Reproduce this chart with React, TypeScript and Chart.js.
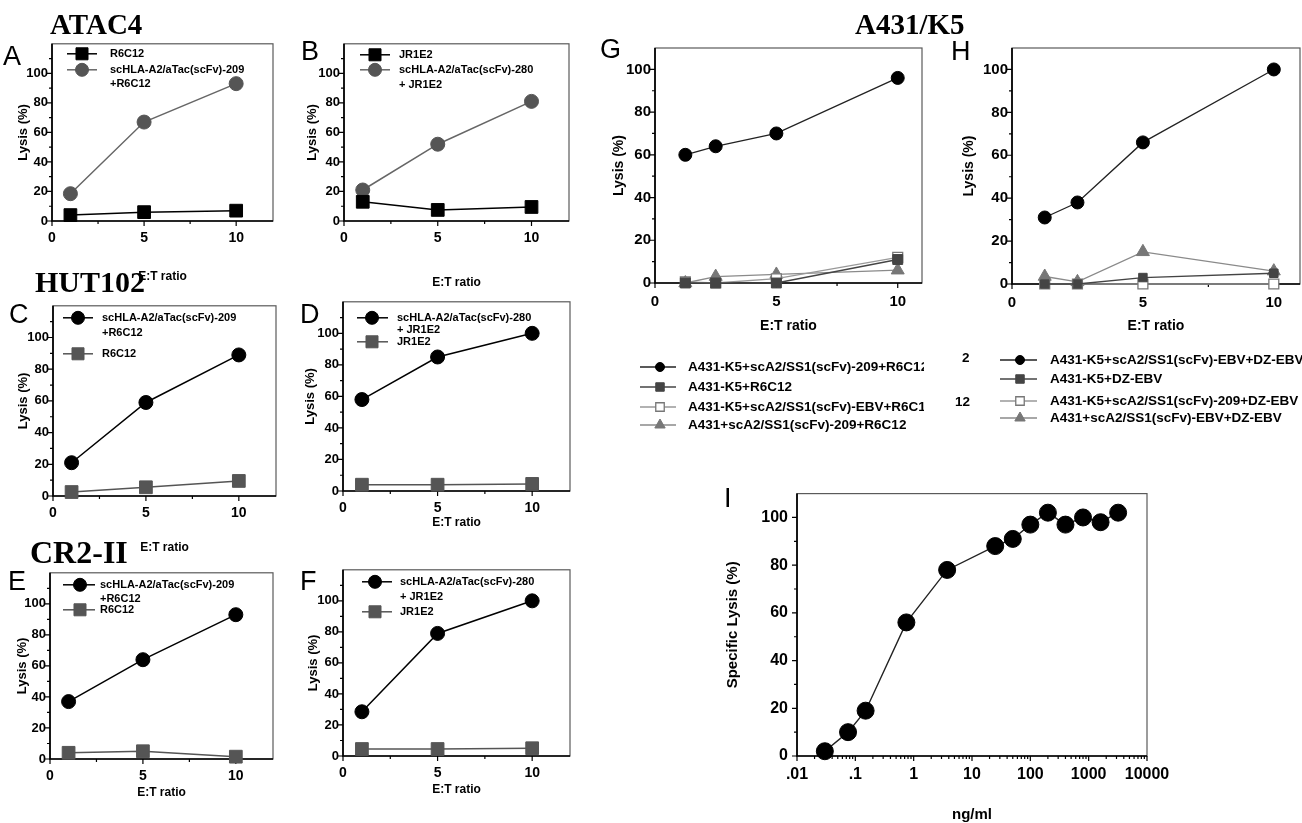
import { useEffect, useRef } from 'react';
import { Chart, registerables } from 'chart.js';
Chart.register(...registerables);

const SANS = '"Liberation Sans", Arial, Helvetica, sans-serif';
const SERIF = '"Liberation Serif", "Times New Roman", Times, serif';

// ---------------- data ----------------
const etRatio = [1, 5, 10];
const aR6C12 = [4, 6, 7];
const aScHLA209 = [18.5, 67, 93];
const bJR1E2 = [13, 7.5, 9.5];
const bScHLA280 = [21, 52, 81];
const cScHLA209 = [21, 59, 89];
const cR6C12 = [2.5, 5.5, 9.5];
const dScHLA280 = [58, 85, 100];
const dJR1E2 = [4, 4, 4.5];
const eScHLA209 = [37, 64, 93];
const eR6C12 = [4, 5, 1.5];
const fScHLA280 = [28.5, 79, 100];
const fJR1E2 = [4.5, 4.5, 5];

const ghRatio = [1.25, 2.5, 5, 10];
const gK5Sc209R6 = [60, 64, 70, 96];
const gK5R6 = [0, 0, 0, 11];
const gK5ScEbvR6 = [0.5, 0, 2, 12];
const gA431Sc209R6 = [0, 3, 4, 6];
const hK5ScEbvDz = [31, 38, 66, 100];
const hK5Dz = [0, 0, 3, 5];
const hK5Sc209Dz = [0, 0, 0, 0];
const hA431ScEbvDz = [3.5, 1, 15, 6];

const iConc = [0.03, 0.075, 0.15, 0.75, 3.75, 25, 50, 100, 200, 400, 800, 1600, 3200];
const iLysis = [2, 10, 19, 56, 78, 88, 91, 97, 102, 97, 100, 98, 102];

// ticks
const etTicks = [0, 5, 10];
const etMinorTicks = [2.5, 7.5];
const lysisTicks = [0, 20, 40, 60, 80, 100];
const lysisMinorTicks = [10, 30, 50, 70, 90, 110];
const lysisMinorTicksShort = [10, 30, 50, 70, 90];
const concTicks = [0.01, 0.1, 1, 10, 100, 1000, 10000];
const concMinorSteps = [2, 3, 4, 5, 6, 7, 8, 9];

// labels
const lblR6C12 = ['R6C12'];
const lbl209 = ['scHLA-A2/aTac(scFv)-209', '+R6C12'];
const lblJR1E2 = ['JR1E2'];
const lbl280 = ['scHLA-A2/aTac(scFv)-280', '+ JR1E2'];
const gLabels = [
  'A431-K5+scA2/SS1(scFv)-209+R6C12',
  'A431-K5+R6C12',
  'A431-K5+scA2/SS1(scFv)-EBV+R6C12',
  'A431+scA2/SS1(scFv)-209+R6C12',
];
const hLabels = [
  'A431-K5+scA2/SS1(scFv)-EBV+DZ-EBV',
  'A431-K5+DZ-EBV',
  'A431-K5+scA2/SS1(scFv)-209+DZ-EBV',
  'A431+scA2/SS1(scFv)-EBV+DZ-EBV',
];

// ---------------- styles ----------------
type Sty = { shape: 'circle' | 'rect' | 'triangle'; r: number; fill: string; edge: string; line: string; lw?: number; ew?: number };
const sBlackCircle: Sty = { shape: 'circle', r: 7, fill: '#000', edge: '#000', line: '#000' };
const sGrayCircle: Sty = { shape: 'circle', r: 7, fill: '#555', edge: '#555', line: '#666' };
const sBlackSquare: Sty = { shape: 'rect', r: 9, fill: '#000', edge: '#000', line: '#000' };
const sGraySquare: Sty = { shape: 'rect', r: 9, fill: '#555', edge: '#555', line: '#555' };
const sGCircle: Sty = { shape: 'circle', r: 6.5, fill: '#000', edge: '#000', line: '#222', lw: 1.3 };
const sGSquare: Sty = { shape: 'rect', r: 7, fill: '#444', edge: '#444', line: '#444', lw: 1.3 };
const sGOpen: Sty = { shape: 'rect', r: 7, fill: '#fff', edge: '#777', line: '#999', lw: 1.3, ew: 1.3 };
const sGTri: Sty = { shape: 'triangle', r: 7.5, fill: '#777', edge: '#777', line: '#8a8a8a', lw: 1.3 };
const sICircle: Sty = { shape: 'circle', r: 8.5, fill: '#000', edge: '#000', line: '#222', lw: 1.4 };

function mk(label: string, xs: number[], ys: number[], s: Sty) {
  return {
    label,
    data: xs.map((x, i) => ({ x, y: ys[i] })),
    borderColor: s.line,
    borderWidth: s.lw ?? 1.5,
    pointStyle: s.shape,
    pointRadius: s.r,
    pointHoverRadius: s.r,
    pointBackgroundColor: s.fill,
    pointBorderColor: s.edge,
    pointBorderWidth: s.ew ?? 1,
    tension: 0,
    clip: false as any,
  };
}

type LegendItem = { ds: number; lines: string[]; ys: number[]; r: number };
type LegendCfg = { x0: number; x1: number; mx: number; tx: number; font: number; items: LegendItem[] };

type PanelCfg = {
  L: number; T: number; R: number; B: number; padT: number; padR: number; Hx?: number;
  xType: 'linear' | 'logarithmic'; xMin: number; xMax: number; yMax: number;
  xMajor: number[]; xMinor: number[]; yMajor: number[]; yMinor: number[];
  xFmt: (v: number) => string;
  xTickFont: number; yTickFont: number; xTickPad: number; yTickPad: number;
  xTitle: string; xTitleY: number; xTitleFont: number;
  yTitle: string; yTitleX: number; yTitleFont: number;
  datasets: any[]; styles: Sty[];
  legend?: LegendCfg;
};

function etPanel(o: { L: number; T: number; R: number; B: number; yTitleX: number; xTitleY: number; datasets: any[]; styles: Sty[]; legend: Omit<LegendCfg, 'font'> }): PanelCfg {
  return {
    L: o.L, T: o.T, R: o.R, B: o.B, padT: 10, padR: 6,
    xType: 'linear', xMin: 0, xMax: 12, yMax: 120,
    xMajor: etTicks, xMinor: etMinorTicks, yMajor: lysisTicks, yMinor: lysisMinorTicks,
    xFmt: (v) => String(v),
    xTickFont: 14, yTickFont: 13, xTickPad: 9, yTickPad: 4,
    xTitle: 'E:T ratio', xTitleY: o.xTitleY, xTitleFont: 12,
    yTitle: 'Lysis (%)', yTitleX: o.yTitleX, yTitleFont: 13,
    datasets: o.datasets, styles: o.styles,
    legend: { ...o.legend, font: 11 },
  };
}

const panels: PanelCfg[] = [
  etPanel({
    L: 52, T: 42, R: 273, B: 221, yTitleX: 23, xTitleY: 277,
    datasets: [mk(lblR6C12.join(' '), etRatio, aR6C12, sBlackSquare), mk(lbl209.join(' '), etRatio, aScHLA209, sGrayCircle)],
    styles: [sBlackSquare, sGrayCircle],
    legend: { x0: 15, x1: 45, mx: 30, tx: 58, items: [{ ds: 0, lines: lblR6C12, ys: [10], r: 8.5 }, { ds: 1, lines: lbl209, ys: [26, 40], r: 6.5 }] },
  }),
  etPanel({
    L: 344, T: 42, R: 569, B: 221, yTitleX: 312, xTitleY: 283,
    datasets: [mk(lblJR1E2.join(' '), etRatio, bJR1E2, sBlackSquare), mk(lbl280.join(' '), etRatio, bScHLA280, sGrayCircle)],
    styles: [sBlackSquare, sGrayCircle],
    legend: { x0: 16, x1: 46, mx: 31, tx: 55, items: [{ ds: 0, lines: lblJR1E2, ys: [11], r: 8.5 }, { ds: 1, lines: lbl280, ys: [26, 41], r: 6.5 }] },
  }),
  etPanel({
    L: 53, T: 304, R: 276, B: 496, yTitleX: 23, xTitleY: 548,
    datasets: [mk(lbl209.join(' '), etRatio, cScHLA209, sBlackCircle), mk(lblR6C12.join(' '), etRatio, cR6C12, sGraySquare)],
    styles: [sBlackCircle, sGraySquare],
    legend: { x0: 10, x1: 40, mx: 25, tx: 49, items: [{ ds: 0, lines: lbl209, ys: [12, 27], r: 6.5 }, { ds: 1, lines: lblR6C12, ys: [48], r: 8.5 }] },
  }),
  etPanel({
    L: 343, T: 300, R: 570, B: 491, yTitleX: 310, xTitleY: 523,
    datasets: [mk(lbl280.join(' '), etRatio, dScHLA280, sBlackCircle), mk(lblJR1E2.join(' '), etRatio, dJR1E2, sGraySquare)],
    styles: [sBlackCircle, sGraySquare],
    legend: { x0: 14, x1: 45, mx: 29, tx: 54, items: [{ ds: 0, lines: lbl280, ys: [16, 28], r: 6.5 }, { ds: 1, lines: lblJR1E2, ys: [40], r: 8.5 }] },
  }),
  etPanel({
    L: 50, T: 571, R: 273, B: 759, yTitleX: 22, xTitleY: 793,
    datasets: [mk(lbl209.join(' '), etRatio, eScHLA209, sBlackCircle), mk(lblR6C12.join(' '), etRatio, eR6C12, sGraySquare)],
    styles: [sBlackCircle, sGraySquare],
    legend: { x0: 13, x1: 45, mx: 30, tx: 50, items: [{ ds: 0, lines: lbl209, ys: [12, 26], r: 6.5 }, { ds: 1, lines: lblR6C12, ys: [37], r: 8.5 }] },
  }),
  etPanel({
    L: 343, T: 568, R: 570, B: 756, yTitleX: 313, xTitleY: 790,
    datasets: [mk(lbl280.join(' '), etRatio, fScHLA280, sBlackCircle), mk(lblJR1E2.join(' '), etRatio, fJR1E2, sGraySquare)],
    styles: [sBlackCircle, sGraySquare],
    legend: { x0: 19, x1: 49, mx: 32, tx: 57, items: [{ ds: 0, lines: lbl280, ys: [12, 27], r: 6.5 }, { ds: 1, lines: lblJR1E2, ys: [42], r: 8.5 }] },
  }),
  {
    L: 655, T: 43, R: 922, B: 283, padT: 8, padR: 2, Hx: 150,
    xType: 'linear', xMin: 0, xMax: 11, yMax: 110,
    xMajor: etTicks, xMinor: etMinorTicks, yMajor: lysisTicks, yMinor: lysisMinorTicksShort,
    xFmt: (v) => String(v), xTickFont: 15, yTickFont: 15, xTickPad: 10, yTickPad: 4,
    xTitle: 'E:T ratio', xTitleY: 326, xTitleFont: 14,
    yTitle: 'Lysis (%)', yTitleX: 619, yTitleFont: 14,
    datasets: [
      mk(gLabels[0], ghRatio, gK5Sc209R6, sGCircle),
      mk(gLabels[1], ghRatio, gK5R6, sGSquare),
      mk(gLabels[2], ghRatio, gK5ScEbvR6, sGOpen),
      mk(gLabels[3], ghRatio, gA431Sc209R6, sGTri),
    ],
    styles: [sGCircle, sGSquare, sGOpen, sGTri],
    legend: {
      x0: -15, x1: 21, mx: 5, tx: 33, font: 13.5,
      items: [
        { ds: 0, lines: [gLabels[0]], ys: [319], r: 4.5 },
        { ds: 1, lines: [gLabels[1]], ys: [339], r: 6 },
        { ds: 2, lines: [gLabels[2]], ys: [359], r: 6 },
        { ds: 3, lines: [gLabels[3]], ys: [377], r: 6 },
      ],
    },
  },
  {
    L: 1012, T: 43, R: 1300, B: 284, padT: 8, padR: 2, Hx: 152,
    xType: 'linear', xMin: 0, xMax: 11, yMax: 110,
    xMajor: etTicks, xMinor: etMinorTicks, yMajor: lysisTicks, yMinor: lysisMinorTicksShort,
    xFmt: (v) => String(v), xTickFont: 15, yTickFont: 15, xTickPad: 10, yTickPad: 4,
    xTitle: 'E:T ratio', xTitleY: 326, xTitleFont: 14,
    yTitle: 'Lysis (%)', yTitleX: 969, yTitleFont: 14,
    datasets: [
      mk(hLabels[0], ghRatio, hK5ScEbvDz, sGCircle),
      mk(hLabels[1], ghRatio, hK5Dz, { ...sGSquare, r: 6 }),
      mk(hLabels[2], ghRatio, hK5Sc209Dz, sGOpen),
      mk(hLabels[3], ghRatio, hA431ScEbvDz, sGTri),
    ],
    styles: [sGCircle, sGSquare, sGOpen, sGTri],
    legend: {
      x0: -12, x1: 25, mx: 8, tx: 38, font: 13.5,
      items: [
        { ds: 0, lines: [hLabels[0]], ys: [312], r: 4.5 },
        { ds: 1, lines: [hLabels[1]], ys: [331], r: 6 },
        { ds: 2, lines: [hLabels[2]], ys: [353], r: 6 },
        { ds: 3, lines: [hLabels[3]], ys: [370], r: 6 },
      ],
    },
  },
  {
    L: 797, T: 483, R: 1147, B: 756, padT: 8, padR: 36,
    xType: 'logarithmic', xMin: 0.01, xMax: 10000, yMax: 110,
    xMajor: concTicks,
    xMinor: concTicks.slice(0, -1).flatMap((d) => concMinorSteps.map((m) => d * m)),
    yMajor: lysisTicks, yMinor: lysisMinorTicksShort,
    xFmt: (v) => (v < 1 ? String(v).replace(/^0/, '') : String(v)),
    xTickFont: 16, yTickFont: 16, xTickPad: 9, yTickPad: 9,
    xTitle: 'ng/ml', xTitleY: 815, xTitleFont: 15,
    yTitle: 'Specific Lysis (%)', yTitleX: 733, yTitleFont: 15,
    datasets: [mk('Specific lysis', iConc, iLysis, sICircle)],
    styles: [sICircle],
  },
];

function geom(p: PanelCfg) {
  const ylh = p.yTitleFont * 1.2;
  const xlh = p.xTitleFont * 1.2;
  const Wy = Math.round(p.L - p.yTitleX + ylh / 2 + 2);
  const Hx = p.Hx ?? Math.round(p.xTitleY - p.B + xlh / 2 + 3);
  const left = p.L - Wy;
  const top = p.T - p.padT;
  const w = Wy + (p.R - p.L) + p.padR;
  const h = p.padT + (p.B - p.T) + Hx;
  return {
    Wy, Hx, left, top, w, h,
    yTitlePad: p.yTitleX - left - ylh / 2,
    xTitlePad: Hx - (p.xTitleY - p.B) - xlh / 2,
  };
}

function drawMarker(ctx: CanvasRenderingContext2D, s: Sty, x: number, y: number, r: number) {
  ctx.beginPath();
  if (s.shape === 'circle') {
    ctx.arc(x, y, r, 0, Math.PI * 2);
  } else if (s.shape === 'rect') {
    const h = r * Math.SQRT1_2;
    ctx.rect(x - h, y - h, 2 * h, 2 * h);
  } else {
    let a = 0;
    ctx.moveTo(x + Math.sin(a) * r, y - Math.cos(a) * r);
    a += (2 * Math.PI) / 3;
    ctx.lineTo(x + Math.sin(a) * r, y - Math.cos(a) * r);
    a += (2 * Math.PI) / 3;
    ctx.lineTo(x + Math.sin(a) * r, y - Math.cos(a) * r);
    ctx.closePath();
  }
  ctx.fillStyle = s.fill;
  ctx.strokeStyle = s.edge;
  ctx.lineWidth = s.ew ?? 1;
  ctx.fill();
  ctx.stroke();
}

function makeConfig(p: PanelCfg, g: ReturnType<typeof geom>): any {
  const frame = {
    id: 'frameBox',
    beforeDatasetsDraw(chart: any) {
      const { ctx, chartArea: a, scales } = chart;
      const x = scales.x, y = scales.y;
      ctx.save();
      ctx.strokeStyle = '#5a5a5a';
      ctx.lineWidth = 1.2;
      ctx.strokeRect(a.left, a.top, a.right - a.left, a.bottom - a.top);
      ctx.strokeStyle = '#000';
      ctx.lineWidth = 1.7;
      ctx.beginPath();
      ctx.moveTo(a.left, a.top);
      ctx.lineTo(a.left, a.bottom);
      ctx.lineTo(a.right, a.bottom);
      ctx.stroke();
      ctx.lineWidth = 1.2;
      ctx.beginPath();
      const tick = (vals: number[], len: number, axis: 'x' | 'y') => {
        for (const v of vals) {
          if (axis === 'x') {
            const px = x.getPixelForValue(v);
            ctx.moveTo(px, a.bottom);
            ctx.lineTo(px, a.bottom + len);
          } else {
            const py = y.getPixelForValue(v);
            ctx.moveTo(a.left, py);
            ctx.lineTo(a.left - len, py);
          }
        }
      };
      tick(p.xMajor, 5, 'x');
      tick(p.xMinor, 3, 'x');
      tick(p.yMajor, 5, 'y');
      tick(p.yMinor, 3, 'y');
      ctx.stroke();
      ctx.restore();
    },
  };
  const legend = {
    id: 'insetLegend',
    afterDatasetsDraw(chart: any) {
      const L = p.legend;
      if (!L) return;
      const { ctx, chartArea: a } = chart;
      ctx.save();
      for (const it of L.items) {
        const s = p.styles[it.ds];
        const ds = chart.data.datasets[it.ds];
        const y0 = a.top + it.ys[0];
        ctx.strokeStyle = ds.borderColor;
        ctx.lineWidth = ds.borderWidth;
        ctx.beginPath();
        ctx.moveTo(a.left + L.x0, y0);
        ctx.lineTo(a.left + L.x1, y0);
        ctx.stroke();
        drawMarker(ctx, s, a.left + L.mx, y0, it.r);
        ctx.fillStyle = '#000';
        ctx.font = `bold ${L.font}px ${SANS}`;
        ctx.textBaseline = 'middle';
        ctx.textAlign = 'left';
        it.lines.forEach((t, i) => ctx.fillText(t, a.left + L.tx, a.top + it.ys[i]));
      }
      ctx.restore();
    },
  };
  return {
    type: 'line',
    data: { datasets: p.datasets },
    options: {
      responsive: false,
      animation: false,
      devicePixelRatio: 1,
      events: [],
      layout: { autoPadding: false, padding: { top: p.padT, right: p.padR, left: 0, bottom: 0 } },
      plugins: { legend: { display: false }, tooltip: { enabled: false } },
      scales: {
        x: {
          type: p.xType,
          min: p.xMin,
          max: p.xMax,
          grid: { display: false, drawTicks: false },
          border: { display: false },
          afterBuildTicks: (s: any) => { s.ticks = p.xMajor.map((v) => ({ value: v })); },
          afterFit: (s: any) => { s.height = g.Hx; },
          ticks: {
            autoSkip: false, maxRotation: 0, minRotation: 0, padding: p.xTickPad, color: '#000',
            font: { family: SANS, size: p.xTickFont, weight: 'bold' },
            callback: (v: any) => p.xFmt(Number(v)),
          },
          title: {
            display: true, text: p.xTitle, color: '#000',
            font: { family: SANS, size: p.xTitleFont, weight: 'bold' },
            padding: { top: 0, bottom: g.xTitlePad },
          },
        },
        y: {
          type: 'linear',
          min: 0,
          max: p.yMax,
          grid: { display: false, drawTicks: false },
          border: { display: false },
          afterBuildTicks: (s: any) => { s.ticks = p.yMajor.map((v) => ({ value: v })); },
          afterFit: (s: any) => { s.width = g.Wy; },
          ticks: {
            autoSkip: false, padding: p.yTickPad, color: '#000',
            font: { family: SANS, size: p.yTickFont, weight: 'bold' },
            callback: (v: any) => String(v),
          },
          title: {
            display: true, text: p.yTitle, color: '#000',
            font: { family: SANS, size: p.yTitleFont, weight: 'bold' },
            padding: { top: g.yTitlePad, bottom: 0 },
          },
        },
      },
    },
    plugins: [frame, legend],
  };
}

function Panel({ p }: { p: PanelCfg }) {
  const ref = useRef<HTMLCanvasElement>(null);
  const g = geom(p);
  useEffect(() => {
    const chart = new Chart(ref.current as HTMLCanvasElement, makeConfig(p, g));
    return () => chart.destroy();
  }, []);
  return (
    <canvas
      ref={ref}
      width={g.w}
      height={g.h}
      style={{ position: 'absolute', left: g.left, top: g.top, width: g.w, height: g.h }}
    />
  );
}

type TextItem = { text: string; x: number; y: number; size: number; font: string; weight: string };
const panelLetters: TextItem[] = [
  { text: 'A', x: 3, y: 43, size: 27, font: SANS, weight: 'normal' },
  { text: 'B', x: 301, y: 38, size: 27, font: SANS, weight: 'normal' },
  { text: 'C', x: 9, y: 301, size: 27, font: SANS, weight: 'normal' },
  { text: 'D', x: 300, y: 301, size: 27, font: SANS, weight: 'normal' },
  { text: 'E', x: 8, y: 568, size: 27, font: SANS, weight: 'normal' },
  { text: 'F', x: 300, y: 568, size: 27, font: SANS, weight: 'normal' },
  { text: 'G', x: 600, y: 36, size: 27, font: SANS, weight: 'normal' },
  { text: 'H', x: 951, y: 38, size: 27, font: SANS, weight: 'normal' },
  { text: 'I', x: 724, y: 485, size: 27, font: SANS, weight: 'normal' },
];
const groupTitles: TextItem[] = [
  { text: 'ATAC4', x: 50, y: 10, size: 29, font: SERIF, weight: 'bold' },
  { text: 'HUT102', x: 35, y: 267, size: 30, font: SERIF, weight: 'bold' },
  { text: 'CR2-II', x: 30, y: 536, size: 32, font: SERIF, weight: 'bold' },
  { text: 'A431/K5', x: 855, y: 10, size: 29, font: SERIF, weight: 'bold' },
];
const strayTexts: TextItem[] = [
  { text: '2', x: 962, y: 351, size: 13.5, font: SANS, weight: 'bold' },
  { text: '12', x: 955, y: 395, size: 13.5, font: SANS, weight: 'bold' },
];

export default function App() {
  const texts = [...panelLetters, ...groupTitles, ...strayTexts];
  return (
    <div style={{ position: 'absolute', left: 0, top: 0, width: 1302, height: 823, background: '#fff', overflow: 'hidden' }}>
      {panels.map((p, i) => (
        <Panel key={i} p={p} />
      ))}
      {texts.map((t, i) => (
        <div
          key={'t' + i}
          style={{
            position: 'absolute', left: t.x, top: t.y, fontFamily: t.font, fontSize: t.size,
            fontWeight: t.weight as any, lineHeight: 1, color: '#000', whiteSpace: 'nowrap',
          }}
        >
          {t.text}
        </div>
      ))}
    </div>
  );
}
